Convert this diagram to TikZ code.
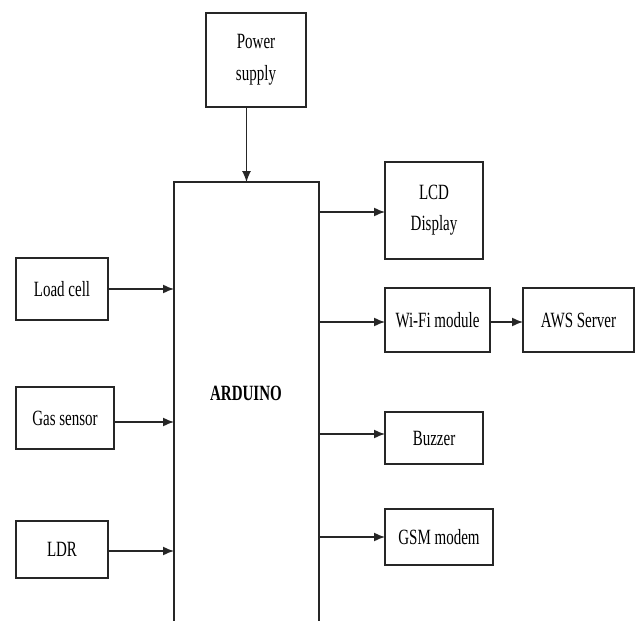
\documentclass[tikz,border=0pt]{standalone}
\usepackage{fontspec}
\setmainfont{Liberation Serif}
\usetikzlibrary{arrows.meta}
\newcommand{\stt}[1]{\scalebox{1}[1.45]{#1}}
\begin{document}
\begin{tikzpicture}[x=1pt,y=-1pt,
  box/.style={draw=black!85,line width=1.4pt,fill=white,inner sep=0pt,outer sep=0pt,align=center,
    font=\fontsize{15}{18}\selectfont},
  arr/.style={draw=black!85,line width=1.5pt,-{Latex[length=11pt,width=9pt]}}]
\useasboundingbox[fill=white] (0,0) rectangle (638,621);
\node[box,minimum width=100pt,minimum height=94pt] (power) at (256,60)
  {\stt{Power}\\[14pt]\stt{supply}};
\node[box,minimum width=145pt,minimum height=458pt] (ard) at (246.5,411) {};
\node[font=\fontsize{15}{18}\selectfont\bfseries,inner sep=0pt] (ardtxt) at (246,393) {\stt{ARDUINO}};
\node[box,minimum width=98pt,minimum height=97pt] (lcd) at (434,210.5)
  {\stt{LCD}\\[13pt]\stt{Display}};
\node[box,minimum width=105pt,minimum height=64pt] (wifi) at (437.5,320) {\stt{Wi-Fi module}};
\node[box,minimum width=111pt,minimum height=64pt] (aws) at (578.5,320) {\stt{AWS Server}};
\node[box,minimum width=98pt,minimum height=52pt] (buzz) at (434,438) {\stt{Buzzer}};
\node[box,minimum width=108pt,minimum height=56pt] (gsm) at (439,537) {\stt{GSM modem}};
\node[box,minimum width=92pt,minimum height=62pt] (load) at (62,289) {\stt{Load cell}};
\node[box,minimum width=98pt,minimum height=62pt] (gas) at (65,418) {\stt{Gas sensor}};
\node[box,minimum width=92pt,minimum height=57pt] (ldr) at (62,549.5) {\stt{LDR}};
\draw[arr,line width=1.2pt] (ard.north |- power.south) -- (ard.north);
\draw[arr] ([yshift=-1.5pt]lcd.west -| ard.east) -- ([yshift=-1.5pt]lcd.west);
\draw[arr] ([yshift=-2pt]wifi.west -| ard.east) -- ([yshift=-2pt]wifi.west);
\draw[arr] ([yshift=-2pt]wifi.east) -- ([yshift=-2pt]aws.west);
\draw[arr] ([yshift=4pt]buzz.west -| ard.east) -- ([yshift=4pt]buzz.west);
\draw[arr] (gsm.west -| ard.east) -- (gsm.west);
\draw[arr] (load.east) -- (load.east -| ard.west);
\draw[arr] ([yshift=-4pt]gas.east) -- ([yshift=-4pt]gas.east -| ard.west);
\draw[arr] ([yshift=-1.5pt]ldr.east) -- ([yshift=-1.5pt]ldr.east -| ard.west);
\end{tikzpicture}
\end{document}
